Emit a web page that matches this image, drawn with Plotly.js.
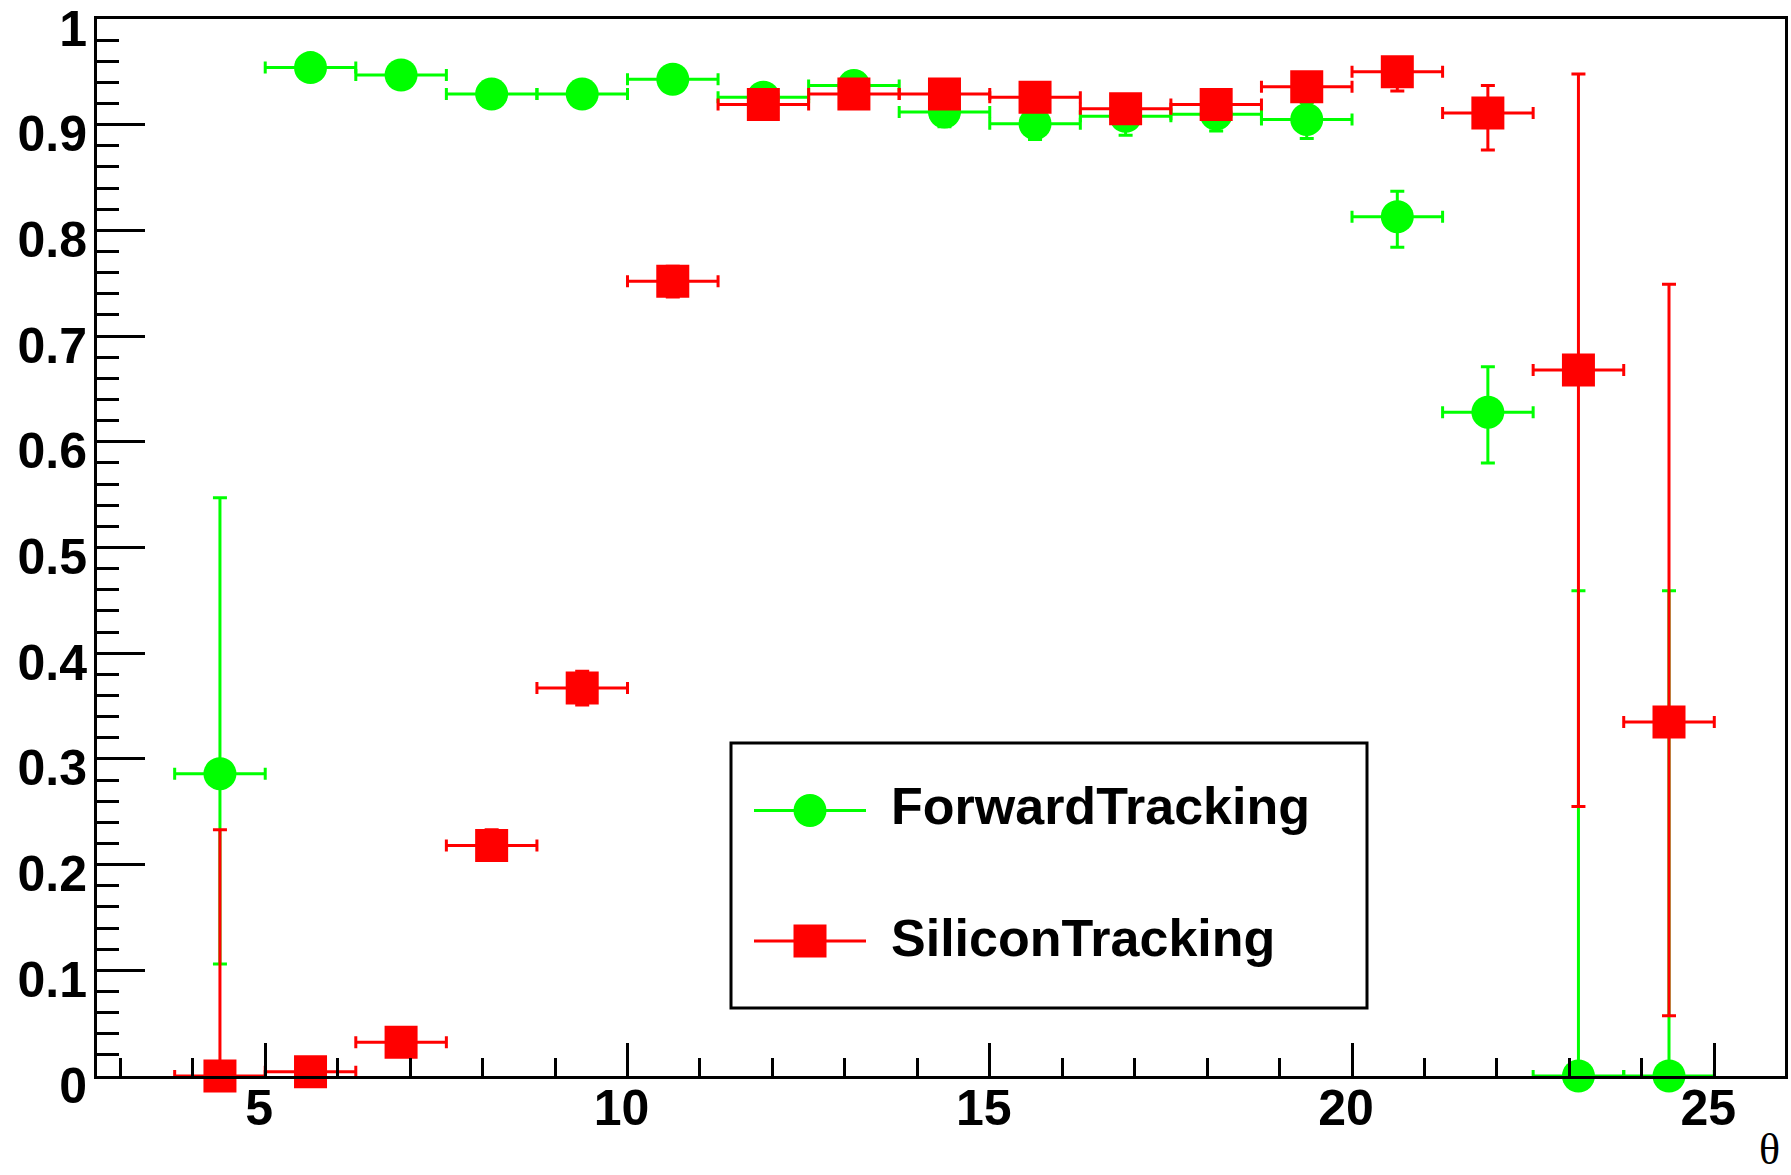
<!DOCTYPE html>
<html>
<head>
<meta charset="utf-8">
<script src="https://cdn.plot.ly/plotly-3.0.1.min.js"></script>
<style>
  html, body { margin: 0; padding: 0; background: #ffffff; }
  #chart { width: 1791px; height: 1175px; }
</style>
</head>
<body>
<div id="chart"></div>
<script>
// ---- data ----
const theta = [4.375, 5.625, 6.875, 8.125, 9.375, 10.625, 11.875, 13.125, 14.375, 15.625, 16.875, 18.125, 19.375, 20.625, 21.875, 23.125, 24.375];
const thetaHalfBin = [0.625, 0.625, 0.625, 0.625, 0.625, 0.625, 0.625, 0.625, 0.625, 0.625, 0.625, 0.625, 0.625, 0.625, 0.625, 0.625, 0.625];

const forwardEff     = [0.286, 0.954, 0.947, 0.929, 0.929, 0.943, 0.926, 0.937, 0.912, 0.901, 0.908, 0.910, 0.905, 0.813, 0.628, 0, 0];
const forwardErrUp   = [0.261, 0.008, 0.009, 0.010, 0.010, 0.010, 0.011, 0.011, 0.013, 0.014, 0.015, 0.016, 0.016, 0.024, 0.043, 0.459, 0.459];
const forwardErrDown = [0.180, 0.009, 0.010, 0.011, 0.011, 0.011, 0.012, 0.012, 0.014, 0.015, 0.018, 0.016, 0.018, 0.029, 0.048, 0, 0];

const siliconEff     = [0, 0.004, 0.032, 0.218, 0.367, 0.752, 0.919, 0.929, 0.929, 0.926, 0.915, 0.919, 0.936, 0.950, 0.911, 0.668, 0.335];
const siliconErrUp   = [0.233, 0.008, 0.010, 0.015, 0.016, 0.014, 0.010, 0.010, 0.010, 0.010, 0.011, 0.011, 0.011, 0.012, 0.026, 0.280, 0.414];
const siliconErrDown = [0, 0.003, 0.009, 0.014, 0.016, 0.015, 0.011, 0.011, 0.011, 0.011, 0.012, 0.012, 0.012, 0.018, 0.035, 0.413, 0.278];

const seriesNames = ["ForwardTracking", "SiliconTracking"];
const xAxisLabel = "θ";

// ---- styles ----
const GREEN = "#00ff00";
const RED = "#ff0000";
const FONT = "Liberation Sans, Arial, Helvetica, sans-serif";

function effTrace(name, y, up, down, color, symbol) {
  return {
    type: "scatter",
    mode: "markers",
    name: name,
    x: theta,
    y: y,
    showlegend: false,
    marker: { color: color, symbol: symbol, size: 33, line: { width: 0 } },
    error_x: { type: "data", symmetric: true, array: thetaHalfBin, color: color, thickness: 3, width: 6 },
    error_y: { type: "data", symmetric: false, array: up, arrayminus: down, color: color, thickness: 3, width: 7 },
    cliponaxis: false,
    hoverinfo: "x+y+name"
  };
}

const traces = [
  effTrace(seriesNames[0], forwardEff, forwardErrUp, forwardErrDown, GREEN, "circle"),
  effTrace(seriesNames[1], siliconEff, siliconErrUp, siliconErrDown, RED, "square")
];

// plot area in pixels: x 97..1785, y 19..1076
const W = 1791, H = 1175;
const L = 97, R = 6, T = 19, B = 99;
const pw = W - L - R, ph = H - T - B;
const px = (p) => (p - L) / pw;          // pixel -> paper x
const py = (p) => (H - B - p) / ph;      // pixel -> paper y

// manual ROOT-style legend box
const legX0 = px(731), legX1 = px(1367), legY0 = py(1008), legY1 = py(743);
const symX0 = px(754), symX1 = px(866), symXc = px(810);
const row1 = py(810.5), row2 = py(941);
const textX = px(889);

const shapes = [
  { type: "rect", xref: "paper", yref: "paper", x0: legX0, x1: legX1, y0: legY0, y1: legY1,
    line: { color: "#000", width: 3 }, fillcolor: "#ffffff", layer: "above" },
  { type: "line", xref: "paper", yref: "paper", x0: symX0, x1: symX1, y0: row1, y1: row1,
    line: { color: GREEN, width: 3 }, layer: "above" },
  { type: "circle", xref: "paper", yref: "paper", xsizemode: "pixel", ysizemode: "pixel",
    xanchor: symXc, yanchor: row1, x0: -16.5, x1: 16.5, y0: -16.5, y1: 16.5,
    fillcolor: GREEN, line: { width: 0 }, layer: "above" },
  { type: "line", xref: "paper", yref: "paper", x0: symX0, x1: symX1, y0: row2, y1: row2,
    line: { color: RED, width: 3 }, layer: "above" },
  { type: "rect", xref: "paper", yref: "paper", xsizemode: "pixel", ysizemode: "pixel",
    xanchor: symXc, yanchor: row2, x0: -16.5, x1: 16.5, y0: -16.5, y1: 16.5,
    fillcolor: RED, line: { width: 0 }, layer: "above" }
];

const annotations = [
  { xref: "paper", yref: "paper", x: textX, y: py(806), xanchor: "left", yanchor: "middle",
    text: seriesNames[0], showarrow: false, font: { family: FONT, size: 52, weight: "bold", color: "#000" } },
  { xref: "paper", yref: "paper", x: textX, y: py(937.5), xanchor: "left", yanchor: "middle",
    text: seriesNames[1], showarrow: false, font: { family: FONT, size: 52, weight: "bold", color: "#000" } },
  { xref: "paper", yref: "paper", x: px(1781), y: py(1175), xanchor: "right", yanchor: "bottom",
    borderpad: 0, text: xAxisLabel, showarrow: false,
    font: { family: "Liberation Serif, Times New Roman, serif", size: 44, color: "#000" } }
];

const tickFont = { family: FONT, size: 50, weight: "bold", color: "#000" };

const layout = {
  width: W, height: H,
  margin: { l: L, r: R, t: T, b: B, pad: 0 },
  paper_bgcolor: "#ffffff",
  plot_bgcolor: "#ffffff",
  showlegend: false,
  xaxis: {
    range: [2.678, 25.976],
    tick0: 0, dtick: 5,
    ticks: "inside", ticklen: 33, tickwidth: 3, tickcolor: "#000",
    minor: { ticks: "inside", dtick: 1, ticklen: 18, tickwidth: 3, tickcolor: "#000", showgrid: false },
    showline: true, linecolor: "#000", linewidth: 3, mirror: true,
    showgrid: false, zeroline: false,
    tickfont: tickFont,
    ticklabelstandoff: -14,
    ticklabelshift: -6,
    ticklabeloverflow: "allow"
  },
  yaxis: {
    range: [0, 1],
    tick0: 0, dtick: 0.1,
    ticks: "inside", ticklen: 48, tickwidth: 3, tickcolor: "#000",
    minor: { ticks: "inside", dtick: 0.02, ticklen: 22, tickwidth: 3, tickcolor: "#000", showgrid: false },
    showline: true, linecolor: "#000", linewidth: 3, mirror: true,
    showgrid: false, zeroline: false,
    tickfont: tickFont,
    ticklabelstandoff: -3,
    ticklabelshift: 9,
    ticklabeloverflow: "allow"
  },
  shapes: shapes,
  annotations: annotations
};

Plotly.newPlot("chart", traces, layout, { displayModeBar: false, staticPlot: true });
</script>
</body>
</html>
